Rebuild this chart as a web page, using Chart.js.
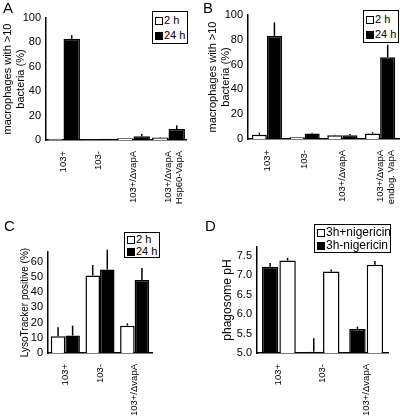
<!DOCTYPE html>
<html>
<head>
<meta charset="utf-8">
<script src="https://cdn.jsdelivr.net/npm/chart.js@4/dist/chart.umd.min.js"></script>
<style>
body { margin: 0; background: #fff; font-family: "Liberation Sans", Arial, sans-serif; }
#fig { position: relative; width: 400px; height: 419px; overflow: hidden; }
canvas { position: absolute; }
.letter { position: absolute; font-size: 15px; line-height: 15px; color: #000; }
.lg { position: absolute; border: 1.5px solid #000; box-sizing: border-box; background: #fff;
      font-size: 11px; color: #000; padding: 1px 0 0 2px; white-space: nowrap; }
.sw { display: inline-block; width: 6px; height: 6px; border: 1.5px solid #000; background: #fff;
      margin-right: 1px; vertical-align: -1px; }
.sw.k { background: #000; }
</style>
</head>
<body>
<div id="fig">
  <canvas id="chartA" width="200" height="205" style="left:0;top:0"></canvas>
  <canvas id="chartB" width="200" height="205" style="left:200px;top:0"></canvas>
  <canvas id="chartC" width="200" height="214" style="left:0;top:205px"></canvas>
  <canvas id="chartD" width="200" height="214" style="left:200px;top:205px"></canvas>

  <div class="letter" style="left:3px;top:0">A</div>
  <div class="letter" style="left:203px;top:0">B</div>
  <div class="letter" style="left:4px;top:218px">C</div>
  <div class="letter" style="left:205px;top:218px">D</div>

  <div class="lg" style="left:152px;top:11px;width:36px;height:33px;line-height:15px">
    <div><span class="sw"></span>2 h</div><div><span class="sw k"></span>24 h</div>
  </div>
  <div class="lg" style="left:363px;top:10px;width:36px;height:33px;line-height:15px">
    <div><span class="sw"></span>2 h</div><div><span class="sw k"></span>24 h</div>
  </div>
  <div class="lg" style="left:124px;top:232px;width:36px;height:26px;line-height:11.5px">
    <div><span class="sw"></span>2 h</div><div><span class="sw k"></span>24 h</div>
  </div>
  <div class="lg" style="left:314px;top:224px;width:77px;height:29px;font-size:12px;line-height:13px">
    <div><span class="sw"></span>3h+nigericin</div><div><span class="sw k"></span>3h-nigericin</div>
  </div>
</div>

<script>
// panel A
const catsA = ["103+", "103-", "103+/ΔvapA", ["103+/ΔvapA", "Hsp60-VapA"]];
const a2h = [1, 0.3, 1.5, 2];
const a2hErr = [0, 0, 0, 0.5];
const a24h = [83, 1, 3, 9];
const a24hErr = [3, 0, 2, 3];

// panel B
const catsB = ["103+", "103-", "103+/ΔvapA", ["103+/ΔvapA", "endog. VapA"]];
const b2h = [3.5, 1.5, 3, 4.5];
const b2hErr = [1.5, 0, 0.5, 1];
const b24h = [83, 4.5, 3, 66];
const b24hErr = [11, 0.5, 1, 10];

// panel C
const catsC = ["103+", "103-", "103+/ΔvapA"];
const c2h = [11, 51, 18];
const c2hErr = [6, 7, 1.5];
const c24h = [11.5, 55, 48];
const c24hErr = [6.5, 13, 8];

// panel D
const catsD = ["103+", "103-", "103+/ΔvapA"];
const dMinus = [7.22, 5.03, 5.62];
const dMinusErr = [0.1, 0.35, 0.06];
const dPlus = [7.38, 7.1, 7.27];
const dPlusErr = [0.07, 0.05, 0.1];

const FONT = "'Liberation Sans', Arial, sans-serif";

// one-sided error bars, straight up from the bar top
const errorBars = {
  id: 'errorBars',
  afterDatasetsDraw(chart) {
    const ctx = chart.ctx;
    const y = chart.scales.y;
    chart.data.datasets.forEach((ds, i) => {
      const meta = chart.getDatasetMeta(i);
      meta.data.forEach((bar, j) => {
        const e = ds.errors ? ds.errors[j] : 0;
        if (!e) return;
        ctx.save();
        ctx.strokeStyle = '#000';
        ctx.lineWidth = 1.5;
        ctx.beginPath();
        ctx.moveTo(bar.x, bar.y);
        ctx.lineTo(bar.x, y.getPixelForValue(ds.data[j] + e));
        ctx.stroke();
        ctx.restore();
      });
    });
  }
};

function bars(data, errors, black) {
  return {
    data: data,
    errors: errors,
    backgroundColor: black ? '#000' : '#fff',
    borderColor: '#000',
    borderWidth: 1.5
  };
}

function makePanel(id, geo, labels, datasets, yCfg, title) {
  new Chart(document.getElementById(id), {
    type: 'bar',
    data: { labels: labels, datasets: datasets },
    options: {
      responsive: false,
      animation: false,
      layout: { padding: { left: 0, top: geo.top, right: geo.w - geo.right, bottom: 0 } },
      datasets: { bar: { barPercentage: geo.barPct, categoryPercentage: geo.catPct } },
      plugins: { legend: { display: false }, tooltip: { enabled: false } },
      scales: {
        x: {
          grid: { display: false, drawTicks: false },
          border: { color: '#000', width: 1.5 },
          ticks: { color: '#000', font: { family: FONT, size: 9.5, lineHeight: 1.15 }, minRotation: 90, maxRotation: 90, padding: 11, autoSkip: false },
          afterFit: s => { s.height = geo.h - geo.bottom; s.paddingLeft = 0; s.paddingRight = 0; }
        },
        y: {
          min: yCfg.min,
          max: yCfg.max,
          grid: { display: false, drawTicks: false },
          border: { color: '#000', width: 1.5 },
          ticks: {
            stepSize: yCfg.step,
            includeBounds: false,
            color: '#000',
            padding: 5,
            font: { family: FONT, size: 11 },
            callback: v => yCfg.dec ? v.toFixed(yCfg.dec) : v
          },
          title: {
            display: true,
            text: title.text,
            color: '#000',
            font: { family: FONT, size: title.size },
            padding: { top: title.pad, bottom: 0 }
          },
          afterFit: s => { s.width = geo.left; }
        }
      }
    },
    plugins: [errorBars]
  });
}

makePanel('chartA',
  { w: 200, h: 205, left: 46, right: 186, top: 18, bottom: 140, barPct: 1, catPct: 0.94 },
  catsA,
  [bars(a2h, a2hErr, false), bars(a24h, a24hErr, true)],
  { min: 0, max: 100, step: 20 },
  { text: ["macrophages with >10", "bacteria (%)"], size: 11, pad: 1.4 });

makePanel('chartB',
  { w: 200, h: 205, left: 48, right: 199, top: 15, bottom: 139, barPct: 1, catPct: 0.8 },
  catsB,
  [bars(b2h, b2hErr, false), bars(b24h, b24hErr, true)],
  { min: 0, max: 100, step: 20 },
  { text: ["macrophages with >10", "bacteria (%)"], size: 11, pad: 6.4 });

makePanel('chartC',
  { w: 200, h: 214, left: 48, right: 152, top: 47, bottom: 148, barPct: 1, catPct: 0.84 },
  catsC,
  [bars(c2h, c2hErr, false), bars(c24h, c24hErr, true)],
  { min: 0, max: 66.5, step: 10 },
  { text: "LysoTracker positive (%)", size: 10, pad: 19 });

makePanel('chartD',
  { w: 200, h: 214, left: 57, right: 188, top: 42, bottom: 148, barPct: 0.94, catPct: 0.8 },
  catsD,
  [bars(dMinus, dMinusErr, true), bars(dPlus, dPlusErr, false)],
  { min: 5, max: 7.73, step: 0.5, dec: 1 },
  { text: "phagosome pH", size: 12, pad: 20.8 });
</script>
</body>
</html>
